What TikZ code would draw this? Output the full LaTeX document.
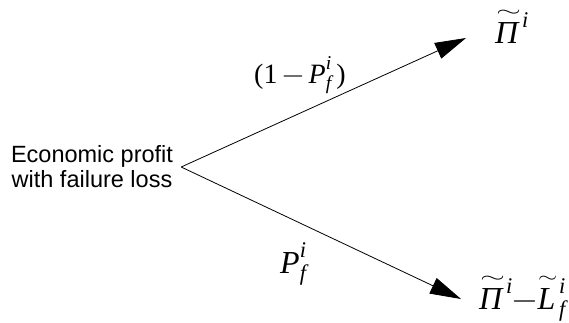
\documentclass[tikz,border=0pt]{standalone}
\usepackage{amsmath}
\usepackage{graphicx}
\usepackage{unicode-math}
\setmainfont{Liberation Serif}
\setmathfont{Latin Modern Math}
\newfontfamily\arialf{Liberation Sans}
\usetikzlibrary{arrows.meta}
\newsavebox\wtbox
\newlength\wtw
\newcommand\mi[1]{\text{\itshape #1}}
\newcommand\tmin{\mathord{-}}
\newcommand\wtl[1]{\text{\sbox\wtbox{\itshape #1}\setlength\wtw{\wd\wtbox}\rlap{\smash{\hspace*{0.06\wtw}\raisebox{0.84em}{\resizebox{1.08\wtw}{0.2em}{$\sim$}}}}\usebox\wtbox}}
\tikzset{
  conn/.style={line width=0.8pt,-{Triangle[length=31pt,width=17pt]}},
  lbl/.style={inner sep=0pt,anchor=base west,font=\fontsize{32pt}{34pt}\selectfont},
  slbl/.style={inner sep=0pt,anchor=base west,font=\fontsize{28pt}{30pt}\selectfont},
}
\begin{document}
\begin{tikzpicture}[x=1pt,y=-1pt]
\useasboundingbox (0,0) rectangle (569,322);
\node[align=center,inner ysep=0pt,inner xsep=8pt,font=\arialf\fontsize{23.5pt}{25pt}\selectfont] (src) at (92,167) {Economic profit\\with failure loss};
\coordinate (tip1) at (466,38);
\coordinate (tip2) at (461,299);
\draw[conn] (src.east) -- (tip1);
\draw[conn] (src.east) -- (tip2);
\node[lbl] (pi) at (495,43) {$\wtl{Π}^{\,\mi{i}}$};
\node[slbl] (q) at (254,83) {$\text{(1}\,\tmin\,\mi{P}^{\mi{i}}_{\mi{f}}\,\text{)}$};
\node[lbl] (p) at (280,273) {$\mi{P}^{\mi{i}}_{\mi{f}}$};
\node[lbl] (pl) at (479,309) {$\wtl{Π}^{\,\mi{i}}\tmin\wtl{L}^{\,\mi{i}}_{\,\mi{f}}$};
\end{tikzpicture}
\end{document}
